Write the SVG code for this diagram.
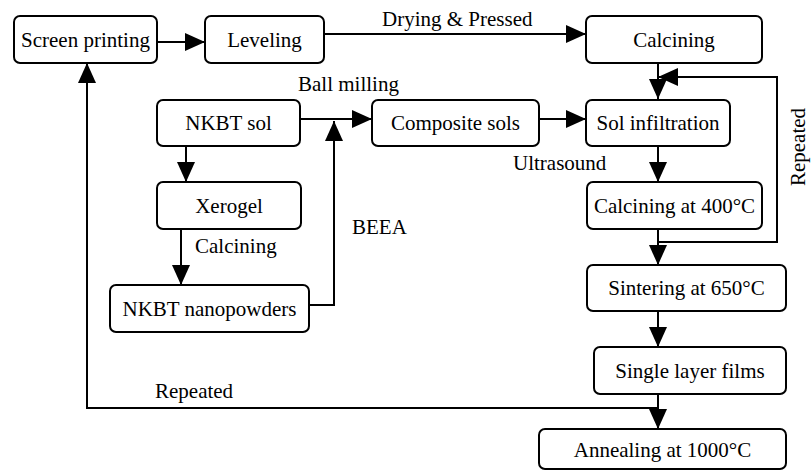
<svg xmlns="http://www.w3.org/2000/svg" width="811" height="470" viewBox="0 0 811 470">
<style>
.box{fill:#fff;stroke:#000;stroke-width:2}
.t{font-family:'Liberation Serif','Tinos','Times New Roman','Noto Serif','DejaVu Serif',serif;font-size:21px;fill:#000}
.m{text-anchor:middle}
.c{fill:none;stroke:#000;stroke-width:2}
</style>
<defs>
<marker id="ah" markerUnits="userSpaceOnUse" markerWidth="20" markerHeight="18" refX="20" refY="9" orient="auto">
<path d="M0,0 L20,9 L0,18 z" fill="#000"/>
</marker>
</defs>
<rect width="811" height="470" fill="#fff"/>
<g id="connectors">
<line class="c" x1="157" y1="42" x2="205" y2="42" marker-end="url(#ah)"/>
<line class="c" x1="324" y1="34" x2="586" y2="34" marker-end="url(#ah)"/>
<line class="c" x1="658" y1="63" x2="658" y2="99" marker-end="url(#ah)"/>
<line class="c" x1="300" y1="119" x2="372" y2="119" marker-end="url(#ah)"/>
<polyline class="c" points="309,305 334,305 334,121" marker-end="url(#ah)"/>
<line class="c" x1="539" y1="119" x2="586" y2="119" marker-end="url(#ah)"/>
<line class="c" x1="186" y1="146" x2="186" y2="182" marker-end="url(#ah)"/>
<line class="c" x1="181" y1="229" x2="181" y2="285" marker-end="url(#ah)"/>
<line class="c" x1="658" y1="146" x2="658" y2="182" marker-end="url(#ah)"/>
<line class="c" x1="658" y1="229" x2="658" y2="265" marker-end="url(#ah)"/>
<polyline class="c" points="658,242 777,242 777,77 658,77" marker-end="url(#ah)"/>
<line class="c" x1="658" y1="311" x2="658" y2="347" marker-end="url(#ah)"/>
<line class="c" x1="658" y1="394" x2="658" y2="429" marker-end="url(#ah)"/>
<polyline class="c" points="658,408 87,408 87,63" marker-end="url(#ah)"/>
<text class="t" x="382" y="26">Drying &amp; Pressed</text>
<text class="t" x="298" y="91">Ball milling</text>
<text class="t" x="513" y="170">Ultrasound</text>
<text class="t" x="352" y="234">BEEA</text>
<text class="t" x="195" y="253">Calcining</text>
<text class="t" x="155" y="398">Repeated</text>
<text class="t m" transform="translate(805,147) rotate(-90)">Repeated</text>
</g>
<g id="n-screen"><rect class="box" x="14" y="16" width="143" height="47" rx="6"/><text class="t m" x="85.5" y="47">Screen printing</text></g>
<g id="n-leveling"><rect class="box" x="205" y="16" width="119" height="47" rx="6"/><text class="t m" x="264.5" y="47">Leveling</text></g>
<g id="n-calcining"><rect class="box" x="586" y="16" width="176" height="47" rx="6"/><text class="t m" x="674" y="47">Calcining</text></g>
<g id="n-nkbtsol"><rect class="box" x="157" y="100" width="143" height="46" rx="6"/><text class="t m" x="228.5" y="130">NKBT sol</text></g>
<g id="n-composite"><rect class="box" x="372" y="100" width="167" height="46" rx="6"/><text class="t m" x="455.5" y="130">Composite sols</text></g>
<g id="n-solinf"><rect class="box" x="586" y="100" width="144" height="46" rx="6"/><text class="t m" x="658" y="130">Sol infiltration</text></g>
<g id="n-xerogel"><rect class="box" x="157" y="182" width="144" height="47" rx="6"/><text class="t m" x="229" y="213">Xerogel</text></g>
<g id="n-nanopowders"><rect class="box" x="110" y="285" width="199" height="47" rx="6"/><text class="t m" x="209.5" y="316">NKBT nanopowders</text></g>
<g id="n-calc400"><rect class="box" x="587" y="182" width="175" height="47" rx="6"/><text class="t m" x="674.5" y="213">Calcining at 400°C</text></g>
<g id="n-sinter"><rect class="box" x="587" y="265" width="199" height="46" rx="6"/><text class="t m" x="686.5" y="295">Sintering at 650°C</text></g>
<g id="n-single"><rect class="box" x="594" y="347" width="192" height="47" rx="6"/><text class="t m" x="690" y="378">Single layer films</text></g>
<g id="n-anneal"><rect class="box" x="539" y="429" width="247" height="40" rx="6"/><text class="t m" x="662.5" y="457">Annealing at 1000°C</text></g>
</svg>
